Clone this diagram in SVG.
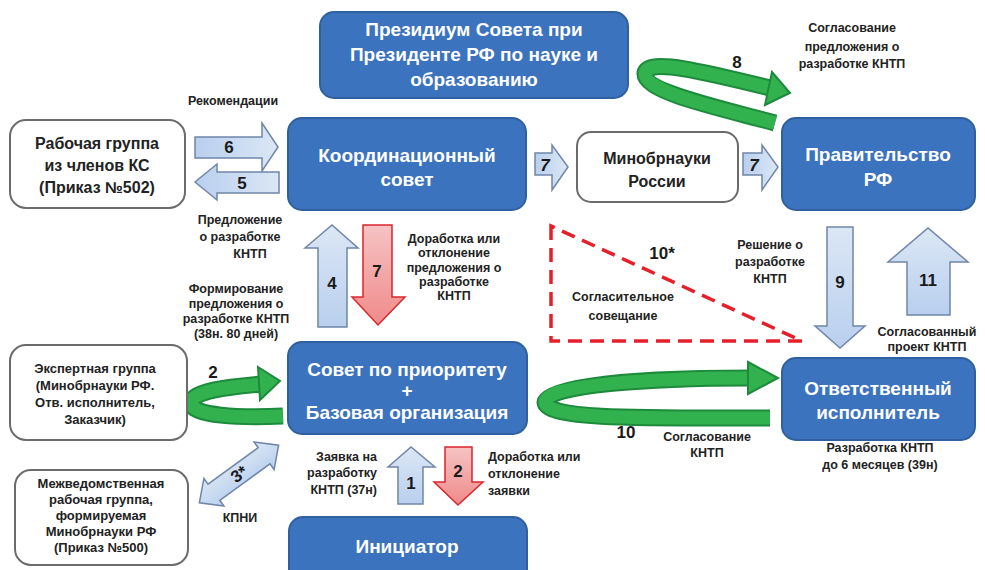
<svg xmlns="http://www.w3.org/2000/svg" width="985" height="570" viewBox="0 0 985 570">
<defs>
<linearGradient id="gb" x1="0" y1="0" x2="0" y2="1"><stop offset="0" stop-color="#dbe7f5"/><stop offset="1" stop-color="#b9cfee"/></linearGradient>
<linearGradient id="gbh" x1="0" y1="0" x2="1" y2="0"><stop offset="0" stop-color="#b9cfee"/><stop offset="1" stop-color="#dbe7f5"/></linearGradient>
<linearGradient id="gr" x1="0" y1="0" x2="0" y2="1"><stop offset="0" stop-color="#f6c3c3"/><stop offset="1" stop-color="#f08a8a"/></linearGradient>
<style>
.bn rect{fill:#3b73be;stroke:#2f609f;stroke-width:2}
.wn rect{fill:#fff;stroke:#6b6b6b;stroke-width:2}
.bt{font-family:"Liberation Sans",Arial,sans-serif;font-weight:bold;font-size:19px;fill:#fff;text-anchor:middle}
.wt{font-family:"Liberation Sans",Arial,sans-serif;font-weight:bold;font-size:16px;fill:#222;text-anchor:middle}
.wts{font-family:"Liberation Sans",Arial,sans-serif;font-weight:bold;font-size:13px;fill:#222;text-anchor:middle}
.lb{font-family:"Liberation Sans",Arial,sans-serif;font-weight:bold;font-size:12.5px;fill:#222;text-anchor:middle}
.num{font-family:"Liberation Sans",Arial,sans-serif;font-weight:bold;font-size:17px;fill:#1a1a1a;text-anchor:middle}
.ba{fill:url(#gb);stroke:#6f86a8;stroke-width:1.5}
.bah{fill:url(#gbh);stroke:#6f86a8;stroke-width:1.5}
.ra{fill:url(#gr);stroke:#d8262e;stroke-width:1.5}
.gout{fill:none;stroke:#1e8a3c;stroke-width:17}
.gin{fill:none;stroke:#31b24e;stroke-width:13}
.gh{fill:#31b24e;stroke:#1e8a3c;stroke-width:2}
</style>
</defs>

<g id="connectors">
  <polygon points="551,226 551,341 802,341" fill="none" stroke="#e5202b" stroke-width="3.5" stroke-dasharray="14,8"/>
  <path class="gout" d="M775 123 C720 108 643 92 645 73 C648 58 705 72 770 88"/>
  <path class="gin" d="M775 123 C720 108 643 92 645 73 C648 58 705 72 770 88"/>
  <polygon class="gh" points="765,105 790,93 772,72"/>
  <path class="gout" d="M283 416 C240 418 191 416 191 403 C191 391 228 387 262 384"/>
  <path class="gin" d="M283 416 C240 418 191 416 191 403 C191 391 228 387 262 384"/>
  <polygon class="gh" points="258,367 280,381 260,400"/>
  <path class="gout" d="M770 418 C650 418 545 420 545 402 C545 385 650 378 750 378"/>
  <path class="gin" d="M770 418 C650 418 545 420 545 402 C545 385 650 378 750 378"/>
  <polygon class="gh" points="748,362 778,378 748,394"/>
  <polygon class="bah" points="195,137 262,137 262,123 278,147 262,171 262,158 195,158"/>
  <polygon class="bah" points="279,172 217,172 217,164 195,182 217,200 217,193 279,193"/>
  <polygon class="ba" points="318,327 318,248 305,248 332,225 358,248 347,248 347,327"/>
  <polygon class="ra" points="363,225 392,225 392,297 405,297 378,325 352,297 363,297"/>
  <polygon class="bah" points="535,153 552,153 552,145 568,167 552,190 552,175 535,175"/>
  <polygon class="bah" points="743,153 762,153 762,145 778,167 762,190 762,175 743,175"/>
  <polygon class="ba" points="827,227 853,227 853,326 865,326 840,348 815,326 827,326"/>
  <polygon class="ba" points="907,315 907,262 888,262 928,228 968,262 950,262 950,315"/>
  <polygon class="ba" points="398,504 398,467 388,467 411,447 435,467 423,467 423,504"/>
  <polygon class="ra" points="445,447 472,447 472,482 483,482 458,505 434,482 445,482"/>
  <g transform="translate(239,474) rotate(-36)">
    <polygon class="ba" points="-49,0 -31,-17 -31,-10 31,-10 31,-17 49,0 31,17 31,10 -31,10 -31,17"/>
    <text class="num" x="0" y="6" font-size="14">3*</text>
  </g>
  <text class="num" x="229" y="153">6</text>
  <text class="num" x="242" y="189">5</text>
  <text class="num" x="332" y="289">4</text>
  <text class="num" x="377" y="277">7</text>
  <text class="num" x="545" y="171" font-size="12" font-style="italic">7</text>
  <text class="num" x="754" y="171" font-size="12" font-style="italic">7</text>
  <text class="num" x="840" y="288">9</text>
  <text class="num" x="928" y="286" font-size="15">11</text>
  <text class="num" x="411" y="489">1</text>
  <text class="num" x="458" y="477">2</text>
  <text class="num" x="737" y="68">8</text>
  <text class="num" x="213" y="378">2</text>
  <text class="num" x="626" y="438">10</text>
  <text class="num" x="662" y="259" font-size="15">10*</text>
  <text class="lb" x="233" y="105">Рекомендации</text>
  <text class="lb" x="240" y="224">Предложение</text>
  <text class="lb" x="240" y="241">о разработке</text>
  <text class="lb" x="250" y="258">КНТП</text>
  <text class="lb" x="236" y="293">Формирование</text>
  <text class="lb" x="236" y="308">предложения о</text>
  <text class="lb" x="236" y="323">разработке КНТП</text>
  <text class="lb" x="236" y="338">(38н. 80 дней)</text>
  <text class="lb" x="454" y="243">Доработка или</text>
  <text class="lb" x="454" y="257">отклонение</text>
  <text class="lb" x="454" y="272">предложения о</text>
  <text class="lb" x="454" y="286">разработке</text>
  <text class="lb" x="454" y="300">КНТП</text>
  <text class="lb" x="623" y="301">Согласительное</text>
  <text class="lb" x="623" y="320">совещание</text>
  <text class="lb" x="770" y="249">Решение о</text>
  <text class="lb" x="770" y="266">разработке</text>
  <text class="lb" x="770" y="283">КНТП</text>
  <text class="lb" x="927" y="336">Согласованный</text>
  <text class="lb" x="927" y="351">проект КНТП</text>
  <text class="lb" x="852" y="32">Согласование</text>
  <text class="lb" x="852" y="51">предложения о</text>
  <text class="lb" x="852" y="68">разработке КНТП</text>
  <text class="lb" x="377" y="461" style="text-anchor:end">Заявка на</text>
  <text class="lb" x="377" y="477" style="text-anchor:end">разработку</text>
  <text class="lb" x="377" y="494" style="text-anchor:end">КНТП (37н)</text>
  <text class="lb" x="488" y="461" style="text-anchor:start">Доработка или</text>
  <text class="lb" x="488" y="478" style="text-anchor:start">отклонение</text>
  <text class="lb" x="488" y="495" style="text-anchor:start">заявки</text>
  <text class="lb" x="707" y="441">Согласование</text>
  <text class="lb" x="707" y="457">КНТП</text>
  <text class="lb" x="880" y="452">Разработка КНТП</text>
  <text class="lb" x="880" y="469">до 6 месяцев (39н)</text>
  <text class="lb" x="240" y="522">КПНИ</text>
</g>

<g id="presidium" class="bn"><rect x="320" y="12" width="308" height="86" rx="14"/>
  <text class="bt" x="474" y="36">Президиум Совета при</text>
  <text class="bt" x="474" y="61">Президенте РФ по науке и</text>
  <text class="bt" x="474" y="86">образованию</text></g>
<g id="workgroup" class="wn"><rect x="10" y="120" width="175" height="88" rx="16"/>
  <text class="wt" x="97" y="149">Рабочая группа</text>
  <text class="wt" x="97" y="171">из членов КС</text>
  <text class="wt" x="97" y="193">(Приказ №502)</text></g>
<g id="coord" class="bn"><rect x="288" y="118" width="238" height="92" rx="14"/>
  <text class="bt" x="407" y="162">Координационный</text>
  <text class="bt" x="407" y="186">совет</text></g>
<g id="minobr" class="wn"><rect x="577" y="132" width="161" height="70" rx="14"/>
  <text class="wt" x="657" y="164">Минобрнауки</text>
  <text class="wt" x="657" y="187">России</text></g>
<g id="gov" class="bn"><rect x="782" y="118" width="193" height="92" rx="14"/>
  <text class="bt" x="878" y="161">Правительство</text>
  <text class="bt" x="878" y="186">РФ</text></g>
<g id="expert" class="wn"><rect x="10" y="345" width="177" height="95" rx="16"/>
  <text class="wts" x="95" y="373">Экспертная группа</text>
  <text class="wts" x="95" y="390">(Минобрнауки РФ.</text>
  <text class="wts" x="95" y="407">Отв. исполнитель,</text>
  <text class="wts" x="95" y="424">Заказчик)</text></g>
<g id="sovet" class="bn"><rect x="288" y="342" width="239" height="92" rx="14"/>
  <text class="bt" x="407" y="376">Совет по приоритету</text>
  <text class="bt" x="407" y="397">+</text>
  <text class="bt" x="407" y="419">Базовая организация</text></g>
<g id="otv" class="bn"><rect x="782" y="358" width="193" height="82" rx="14"/>
  <text class="bt" x="878" y="395">Ответственный</text>
  <text class="bt" x="878" y="419">исполнитель</text></g>
<g id="mezhved" class="wn"><rect x="15" y="470" width="173" height="95" rx="16"/>
  <text class="wts" x="101" y="488" font-size="14">Межведомственная</text>
  <text class="wts" x="101" y="504" font-size="14">рабочая группа,</text>
  <text class="wts" x="101" y="520" font-size="14">формируемая</text>
  <text class="wts" x="101" y="536" font-size="14">Минобрнауки РФ</text>
  <text class="wts" x="101" y="552" font-size="14">(Приказ №500)</text></g>
<g id="init" class="bn"><rect x="289" y="517" width="238" height="70" rx="14"/>
  <text class="bt" x="407" y="553">Инициатор</text></g>
</svg>
